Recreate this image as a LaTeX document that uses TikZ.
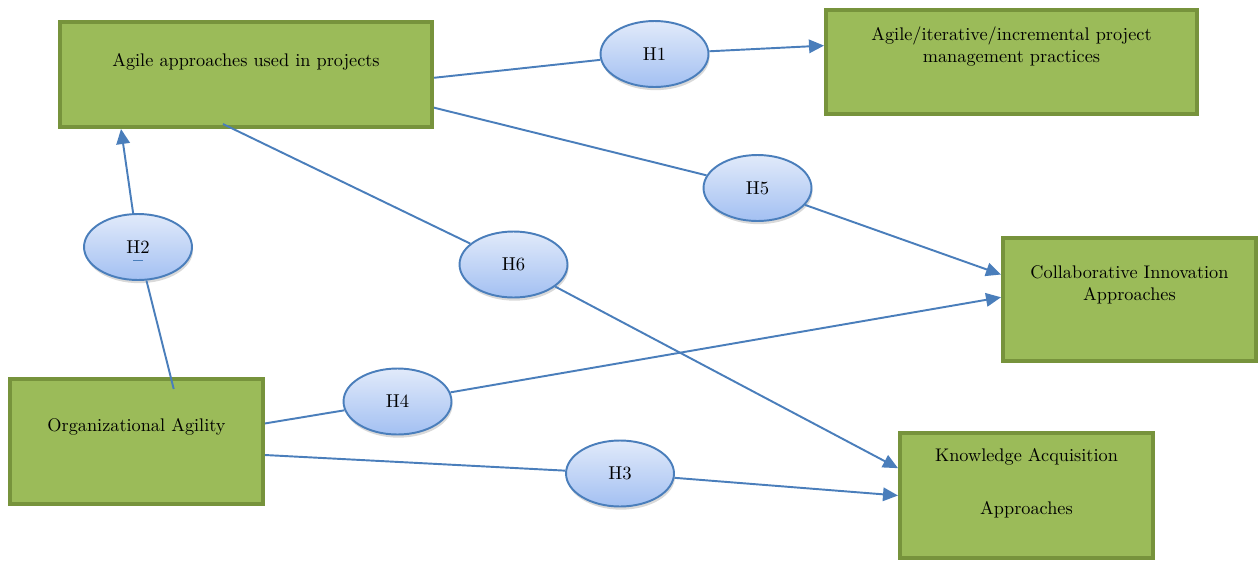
\documentclass[tikz,border=0pt]{standalone}
\usetikzlibrary{arrows.meta,shadows,shapes.geometric}

\definecolor{boxfill}{HTML}{9BBB59}
\definecolor{boxline}{HTML}{77933C}
\definecolor{hypline}{HTML}{4A7EBB}
\definecolor{hyptop}{HTML}{E1EAFA}
\definecolor{hypbot}{HTML}{A3C0F2}

\tikzset{
    construct/.style={draw=boxline,fill=boxfill,line width=2.3pt,
        rectangle,inner sep=0pt},
    caption/.style={align=center,font=\fontsize{10.4}{12.5}\selectfont},
    hyp/.style={draw=hypline,line width=1.1pt,ellipse,inner sep=0pt,
        minimum width=2.16cm,minimum height=1.32cm,
        top color=hyptop,bottom color=hypbot,
        drop shadow={opacity=0.3,shadow xshift=0.6pt,shadow yshift=-1.8pt},
        font=\fontsize{10.6}{12.5}\selectfont},
    link/.style={draw=hypline,line width=1.1pt},
    arr/.style={link,-{Triangle[length=0.3cm,width=0.27cm]}}
}

\begin{document}
\begin{tikzpicture}[x=0.02cm,y=-0.02cm]
        \useasboundingbox (0,0) rectangle (1258,562);
        %% Constructs
        \node[construct,minimum width=7.44cm,minimum height=2.1cm] (A) at (246,74.5) {};
        \node[caption] (Atxt) at (246,62) {Agile approaches used in projects};
        \node[construct,minimum width=7.42cm,minimum height=2.08cm] (P) at (1011.5,62) {};
        \node[caption] (Ptxt) at (1011.5,47) {Agile/iterative/incremental project\\management practices};
        \node[construct,minimum width=5.06cm,minimum height=2.46cm] (C) at (1129.5,299.5) {};
        \node[caption] (Ctxt) at (1129.5,285) {Collaborative Innovation\\Approaches};
        \node[construct,minimum width=5.06cm,minimum height=2.5cm] (K) at (1026.5,495.5) {};
        \node[caption] (Ktxt) at (1026.5,483.5) {Knowledge Acquisition\\[3.9ex]Approaches};
        \node[construct,minimum width=5.06cm,minimum height=2.5cm] (O) at (136.5,441.5) {};
        \node[caption] (Otxt) at (136.5,427) {Organizational Agility};
        %% Hypotheses
        \node[hyp] (H1) at (654.5,54) {H1};
        \node[hyp] (H5) at (757.5,188) {H5};
        \node[hyp] (H2) at (138,247) {H2};
        \node[hyp] (H6) at (513.5,264.5) {H6};
        \node[hyp] (H4) at (397.5,401.5) {H4};
        \node[hyp] (H3) at (620,473.5) {H3};
        \draw[link,line width=0.5pt] ([xshift=-0.1cm,yshift=-0.27cm]H2.center)
            -- ([xshift=0.1cm,yshift=-0.27cm]H2.center);
        %% Paths
        \draw[link] (A.-1.7) -- (H1);
        \draw[arr] (H1) -- (P.175);
        \draw[link] (A.-10.2) -- (H5);
        \draw[arr] (H5) -- (C.169);
        \draw[link] ([xshift=3.3cm,yshift=0.1cm]A.south west) -- (H6);
        \draw[arr] (H6) -- (K.168.5);
        \draw[link] ([yshift=-0.24cm]O.60.4) -- (H2);
        \draw[arr] (H2) -- ([xshift=1.26cm]A.south west);
        \draw[link] (O.8.3) -- (H4);
        \draw[arr] (H4) -- (C.179.3);
        \draw[link] (O.-6.1) -- (H3);
        \draw[arr] (H3) -- (K.180);
    \end{tikzpicture}
\end{document}
